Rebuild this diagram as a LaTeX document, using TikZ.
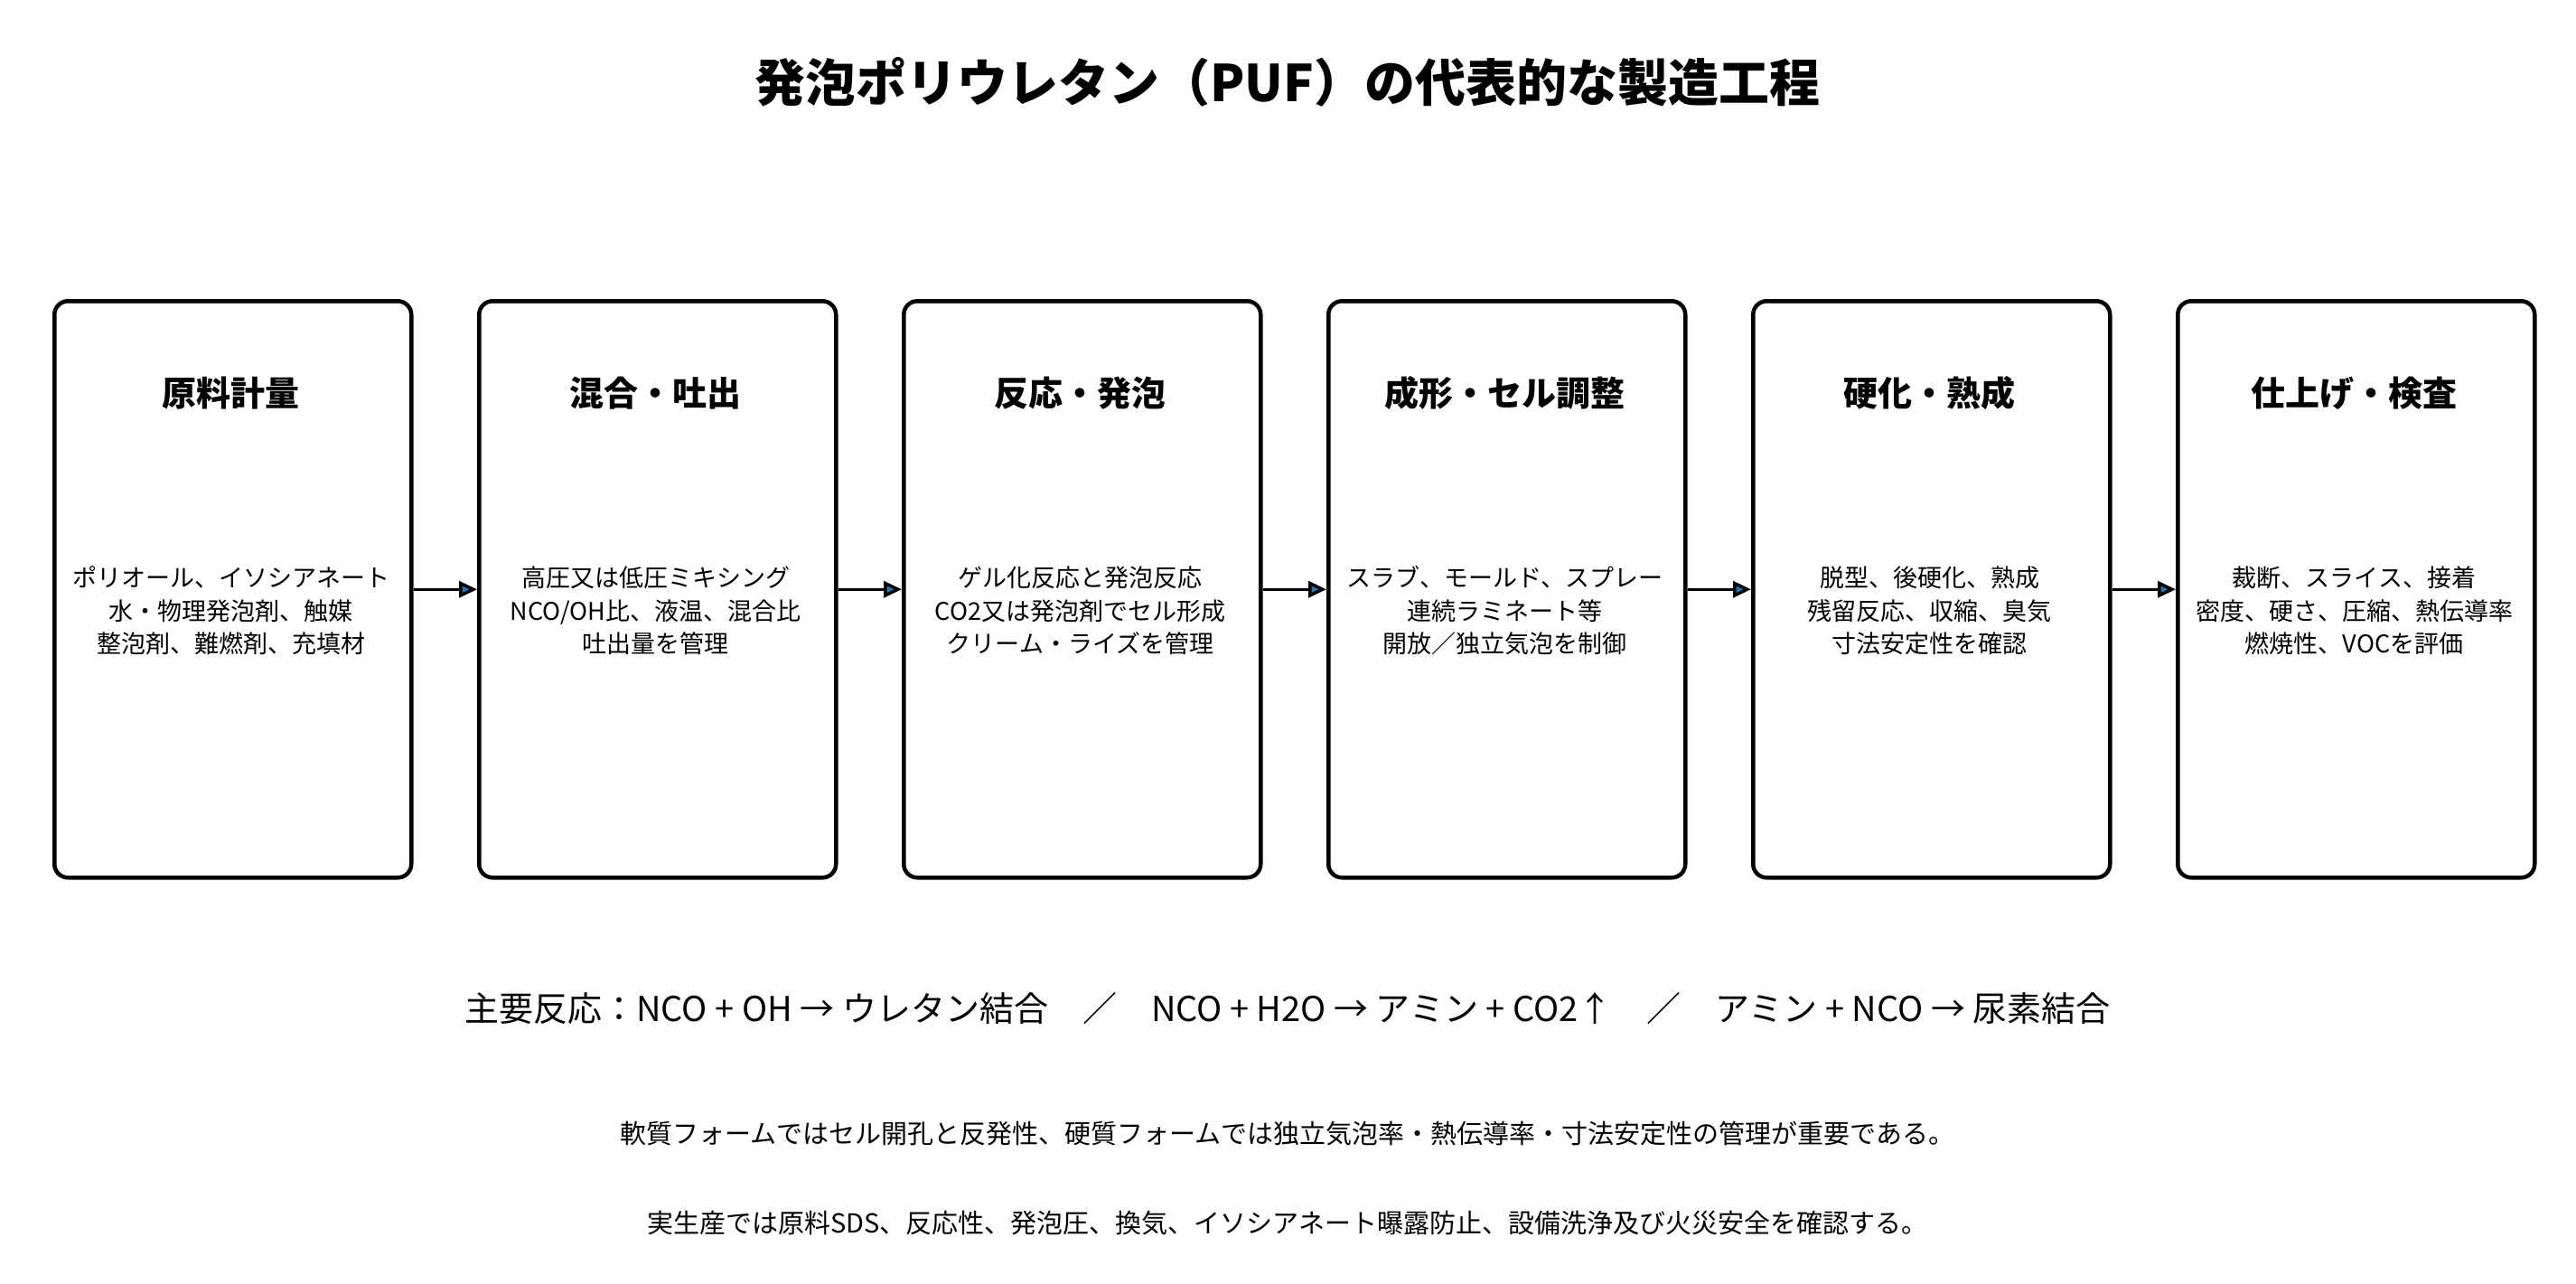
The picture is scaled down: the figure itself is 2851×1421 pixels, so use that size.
\documentclass[tikz,border=0pt]{standalone}
\usepackage{fontspec}
\setmainfont{Noto Sans CJK JP}
\usetikzlibrary{arrows.meta}
\begin{document}
\begin{tikzpicture}[x=1pt,y=-1pt,
  box/.style={draw=black,line width=4.5pt,rounded corners=15pt,minimum width=395pt,minimum height=638pt,anchor=north west,inner sep=0pt},
  hd/.style={font=\fontsize{38}{44}\selectfont\bfseries},
  bd/.style={font=\fontsize{27}{36.5}\selectfont,align=center},
  arr/.style={line width=3.5pt,-{Triangle[length=20pt,width=18pt,fill={rgb,255:red,31;green,119;blue,180}]}}]
\useasboundingbox (0,0) rectangle (2851,1421);
\node[font=\fontsize{56}{64}\selectfont\bfseries] (title) at (1425,91) {発泡ポリウレタン（PUF）の代表的な製造工程};
\foreach \i/\h/\t in {
 0/原料計量/{ポリオール、イソシアネート\\水・物理発泡剤、触媒\\整泡剤、難燃剤、充填材},
 1/混合・吐出/{高圧又は低圧ミキシング\\NCO/OH比、液温、混合比\\吐出量を管理},
 2/反応・発泡/{ゲル化反応と発泡反応\\CO2又は発泡剤でセル形成\\クリーム・ライズを管理},
 3/成形・セル調整/{スラブ、モールド、スプレー\\連続ラミネート等\\開放／独立気泡を制御},
 4/硬化・熟成/{脱型、後硬化、熟成\\残留反応、収縮、臭気\\寸法安定性を確認},
 5/仕上げ・検査/{裁断、スライス、接着\\密度、硬さ、圧縮、熱伝導率\\燃焼性、VOCを評価}}{
  \node[box] (b\i) at (58+\i*470,331) {};
  \node[hd] (h\i) at (255.5+\i*470,435) {\h};
  \node[bd] (t\i) at (255.5+\i*470,676) {\t};
}
\foreach \i/\j in {0/1,1/2,2/3,3/4,4/5}{
  \draw[arr] (b\i.east) -- (b\j.west);
}
\node[font=\fontsize{38}{44}\selectfont] (rx) at (1425,1116) {主要反応：NCO + OH → ウレタン結合\quad ／\quad NCO + H2O → アミン + CO2↑\quad ／\quad アミン + NCO → 尿素結合};
\node[font=\fontsize{29}{34}\selectfont] (n1) at (1425,1254) {軟質フォームではセル開孔と反発性、硬質フォームでは独立気泡率・熱伝導率・寸法安定性の管理が重要である。};
\node[font=\fontsize{29}{34}\selectfont] (n2) at (1425,1354) {実生産では原料SDS、反応性、発泡圧、換気、イソシアネート曝露防止、設備洗浄及び火災安全を確認する。};
\end{tikzpicture}
\end{document}
